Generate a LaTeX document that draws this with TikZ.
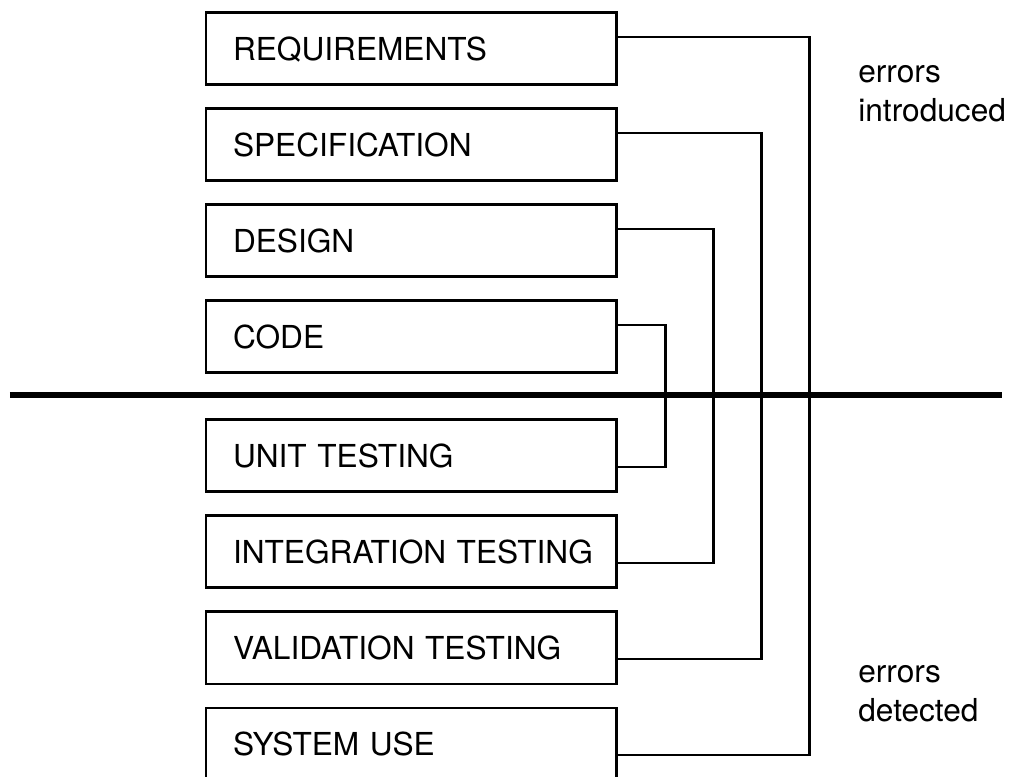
\documentclass[tikz,border=0pt]{standalone}
\usepackage{fontspec}
\setmainfont{TeX Gyre Heros}
\usetikzlibrary{calc}

\tikzset{
    phase/.style={draw,line width=1.7pt,minimum width=8.2cm,minimum height=1.44cm,
        text width=7.12cm,inner xsep=0.54cm,inner ysep=0pt,align=left,
        text height=13pt,text depth=0pt,font=\fontsize{18}{22.7}\selectfont},
    link/.style={line width=1.5pt},
    note/.style={anchor=base west,align=left,inner sep=0pt,font=\fontsize{18}{22.7}\selectfont}
}

\begin{document}
\begin{tikzpicture}
        \useasboundingbox (0,0) rectangle (20.44,15.54);
        \node[phase] (req) at (8.22,14.56) {REQUIREMENTS};
        \node[phase] (spec) at (8.22,12.64) {SPECIFICATION};
        \node[phase] (des) at (8.22,10.72) {DESIGN};
        \node[phase] (code) at (8.22,8.80) {CODE};
        \node[phase] (unit) at (8.22,6.42) {UNIT TESTING};
        \node[phase] (int) at (8.22,4.50) {\mbox{INTEGRATION TESTING}};
        \node[phase] (val) at (8.22,2.58) {\mbox{VALIDATION TESTING}};
        \node[phase] (sys) at (8.22,0.66) {SYSTEM USE};
        \coordinate (s1) at (0.2,7.64);
        \coordinate (s2) at (20.04,7.64);
        \draw[line width=3.4pt] (s1) -- (s2);
        \draw[link] ([yshift=0.24cm]code.east) -- ++(0.96,0) |- ([yshift=-0.22cm]unit.east);
        \draw[link] ([yshift=0.24cm]des.east) -- ++(1.92,0) |- ([yshift=-0.22cm]int.east);
        \draw[link] ([yshift=0.24cm]spec.east) -- ++(2.88,0) |- ([yshift=-0.22cm]val.east);
        \draw[link] ([yshift=0.24cm]req.east) -- ++(3.84,0) |- ([yshift=-0.22cm]sys.east);
        \node[note] (intro) at (17.16,13.1) {errors\\introduced};
        \node[note] (det) at (17.16,1.1) {errors\\detected};
    \end{tikzpicture}
\end{document}
